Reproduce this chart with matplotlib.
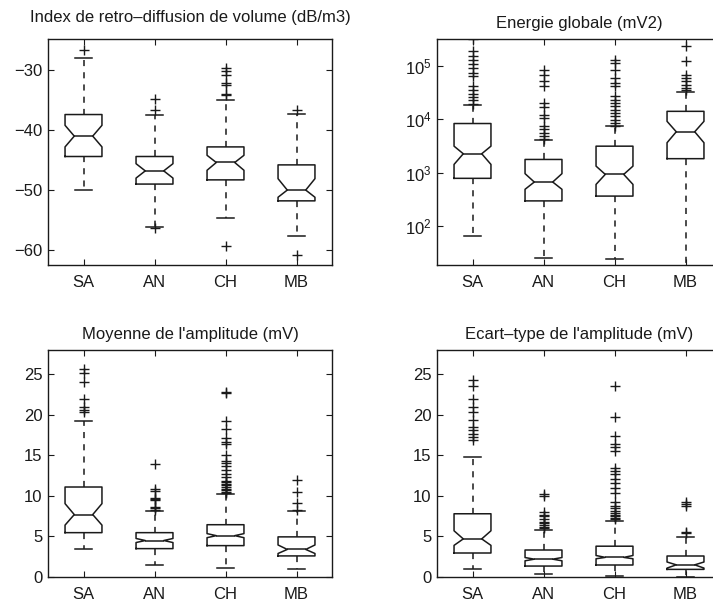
import matplotlib
matplotlib.use('Agg')
import matplotlib.pyplot as plt
from matplotlib.ticker import FixedLocator, NullLocator, LogFormatterMathtext

plt.rcParams['font.family'] = ['Liberation Sans', 'DejaVu Sans']
plt.rcParams['mathtext.fontset'] = 'custom'
plt.rcParams['mathtext.rm'] = 'Liberation Sans'
plt.rcParams['mathtext.it'] = 'Liberation Sans:italic'
plt.rcParams['mathtext.bf'] = 'Liberation Sans:bold'

categories = ['SA', 'AN', 'CH', 'MB']

# Panel 1: Index de retro-diffusion de volume (dB/m3)
vol_med = [-41.0, -46.8, -45.4, -50.0]
vol_q1 = [-44.4, -49.0, -48.3, -51.8]
vol_q3 = [-37.4, -44.4, -42.8, -45.8]
vol_cilo = [-42.8, -48.0, -46.7, -51.2]
vol_cihi = [-39.2, -45.6, -44.2, -48.1]
vol_lo = [-50.0, -56.2, -54.6, -57.7]
vol_hi = [-27.9, -37.4, -34.9, -37.3]
vol_fliers = [
    [-26.6],
    [-34.8, -36.6, -56.4],
    [-29.7, -30.2, -30.8, -32.2, -32.5, -33.9, -34.2, -59.3],
    [-36.6, -60.9],
]

# Panel 2: Energie globale (mV2)
ene_med = [2250, 665, 925, 5800]
ene_q1 = [780, 295, 363, 1820]
ene_q3 = [8280, 1760, 3120, 14000]
ene_cilo = [1420, 486, 600, 3620]
ene_cihi = [3120, 955, 1320, 9100]
ene_lo = [65, 24.7, 24, 12]
ene_hi = [18200, 4040, 7300, 31800]
ene_fliers = [
    [19500, 22600, 26100, 30100, 34600, 41000, 63000, 73000, 90500, 107000,
     129000, 154000, 185000, 315000],
    [4290, 4800, 5550, 6400, 7400, 10600, 12200, 17000, 20100, 41000, 51000,
     68000, 84000],
    [7590, 8530, 9840, 11300, 13100, 15100, 17400, 20100, 23200, 26700, 41000,
     47500, 59000, 84000, 112000, 129000],
    [34700, 38300, 44000, 51000, 59000, 68000, 120000, 235000],
]

# Panel 3: Moyenne de l'amplitude (mV)
moy_med = [7.7, 4.5, 5.1, 3.4]
moy_q1 = [5.47, 3.5, 3.87, 2.6]
moy_q3 = [11.1, 5.47, 6.45, 4.95]
moy_cilo = [6.4, 4.25, 4.85, 2.9]
moy_cihi = [9.05, 4.75, 5.35, 3.95]
moy_lo = [3.4, 1.5, 1.1, 1.0]
moy_hi = [19.2, 8.1, 10.2, 8.2]
moy_fliers = [
    [20.4, 20.6, 21.0, 22.0, 24.1, 25.2, 25.6],
    [8.3, 8.5, 8.6, 9.5, 9.6, 9.7, 10.6, 10.9, 13.9],
    [10.3, 10.5, 10.7, 10.9, 11.1, 11.3, 11.5, 11.7, 11.9, 12.3, 12.7, 13.2,
     13.7, 14.1, 14.3, 15.1, 16.4, 16.7, 17.1, 18.3, 19.2, 22.7, 22.8],
    [8.3, 9.1, 10.5, 12.0],
]

# Panel 4: Ecart-type de l'amplitude (mV)
ect_med = [4.7, 2.2, 2.42, 1.5]
ect_q1 = [2.96, 1.35, 1.48, 0.94]
ect_q3 = [7.8, 3.33, 3.8, 2.59]
ect_cilo = [3.9, 2.0, 2.25, 1.1]
ect_cihi = [5.7, 2.4, 2.65, 1.85]
ect_lo = [1.0, 0.33, 0.16, 0.05]
ect_hi = [14.8, 5.8, 6.9, 4.9]
ect_fliers = [
    [16.9, 17.3, 17.7, 18.1, 18.5, 19.4, 20.4, 21.0, 21.9, 23.5, 24.3],
    [6.0, 6.2, 6.4, 6.6, 6.8, 7.2, 7.5, 7.7, 8.0, 10.0, 10.2],
    [7.1, 7.3, 7.5, 7.7, 7.9, 8.2, 8.5, 8.8, 9.3, 10.3, 11.0, 11.6, 12.1,
     12.7, 13.1, 13.4, 15.6, 16.0, 16.4, 17.4, 19.7, 23.5],
    [5.4, 5.6, 8.7, 9.0, 9.3],
]

titles = ["Index de retro\u2013diffusion de volume (dB/m3)",
          "Energie globale (mV2)",
          "Moyenne de l'amplitude (mV)",
          "Ecart\u2013type de l'amplitude (mV)"]


def build_stats(med, q1, q3, cilo, cihi, lo, hi, fliers):
    out = []
    for i in range(len(med)):
        out.append(dict(med=med[i], q1=q1[i], q3=q3[i], cilo=cilo[i],
                        cihi=cihi[i], whislo=lo[i], whishi=hi[i],
                        fliers=fliers[i], label=categories[i]))
    return out


W, H = 713, 604
fig = plt.figure(figsize=(W / 100, H / 100), dpi=100)


def px_axes(left, top, right, bottom):
    return fig.add_axes([left / W, 1 - bottom / H, (right - left) / W,
                         (bottom - top) / H])


lw = 1.1
col = '#1a1a1a'
props = dict(
    boxprops=dict(color=col, lw=lw),
    medianprops=dict(color=col, lw=lw),
    whiskerprops=dict(color=col, lw=lw, linestyle=(0, (4, 4))),
    capprops=dict(color=col, lw=lw),
    flierprops=dict(marker='+', markeredgecolor=col, markersize=7,
                    markeredgewidth=1.0, linestyle='none'),
)

panels = [
    (build_stats(vol_med, vol_q1, vol_q3, vol_cilo, vol_cihi, vol_lo, vol_hi, vol_fliers),
     (48, 39, 332, 265), titles[0]),
    (build_stats(ene_med, ene_q1, ene_q3, ene_cilo, ene_cihi, ene_lo, ene_hi, ene_fliers),
     (437, 39, 721, 265), titles[1]),
    (build_stats(moy_med, moy_q1, moy_q3, moy_cilo, moy_cihi, moy_lo, moy_hi, moy_fliers),
     (48, 350, 332, 577), titles[2]),
    (build_stats(ect_med, ect_q1, ect_q3, ect_cilo, ect_cihi, ect_lo, ect_hi, ect_fliers),
     (437, 350, 721, 577), titles[3]),
]

for k, (stats, box, title) in enumerate(panels):
    ax = px_axes(*box)
    if k == 1:
        ax.set_yscale('log')
    ax.bxp(stats, positions=[1, 2, 3, 4], widths=0.52, capwidths=0.24,
           shownotches=True, showfliers=True, **props)
    ax.set_xlim(0.5, 4.5)
    ax.xaxis.set_major_locator(FixedLocator([1, 2, 3, 4]))
    ax.set_xticklabels(categories)
    if k == 0:
        ax.set_ylim(-62.5, -24.8)
        ax.set_yticks([-60, -50, -40, -30])
    elif k == 1:
        ax.set_ylim(10 ** 1.27, 10 ** 5.5)
        ax.yaxis.set_major_locator(FixedLocator([1e2, 1e3, 1e4, 1e5]))
        ax.yaxis.set_major_formatter(LogFormatterMathtext())
        ax.yaxis.set_minor_locator(NullLocator())
    else:
        ax.set_ylim(0, 28)
        ax.set_yticks([0, 5, 10, 15, 20, 25])
    ax.tick_params(direction='in', top=True, right=True, length=4,
                   width=0.8, labelsize=12, colors=col)
    ax.tick_params(axis='x', pad=7)
    ax.tick_params(axis='y', pad=4)
    for s in ax.spines.values():
        s.set_linewidth(1.0)
        s.set_color(col)
    ax.set_title(title, fontsize=12, pad=12 if k == 0 else 8, color=col)

fig.savefig('out.png', dpi=100)
